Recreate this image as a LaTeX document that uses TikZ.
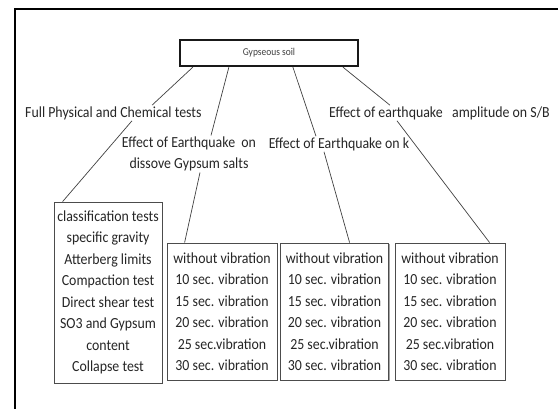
\documentclass[tikz,border=0pt]{standalone}
\usepackage{fontspec}
\setmainfont{Carlito}[FakeStretch=0.9]
\usetikzlibrary{calc,shadows}
\begin{document}
\begin{tikzpicture}[x=1pt,y=-1pt,
  txt/.style={font=\fontsize{15.4}{21.5}\selectfont, text=black!85},
  lbl/.style={txt, inner sep=1pt},
  vbox/.style={txt, draw=black!70, line width=0.8pt, fill=white, align=center,
    inner sep=0pt, drop shadow={shadow xshift=1.3pt, shadow yshift=-1.3pt, fill=black!45, opacity=0.8}},
  gbox/.style={draw=black!90, line width=2.2pt, fill=white, minimum width=178pt, minimum height=26pt,
    inner sep=0pt, font=\fontsize{10.5}{12}\selectfont, text=black!75,
    drop shadow={shadow xshift=1pt, shadow yshift=-1pt, fill=black!40, opacity=0.7}},
  conn/.style={draw=black!75, line width=0.7pt}]
\useasboundingbox (0,0) rectangle (558,408);
\draw[line width=2pt] (15,409) -- (15,9) -- (559,9);

\node[gbox] (g) at (269,53) {\raisebox{-3pt}{Gypseous soil}};

\node[lbl, anchor=west] (l1) at (24,113) {Full Physical and Chemical tests};
\node[lbl, anchor=west] (l4) at (328,113) {Effect of earthquake\ \ \ amplitude on S/B};
\node[lbl, align=center] (l2) at (189,154) {Effect of Earthquake\ \ on\\dissove Gypsum salts};
\node[lbl] (l3) at (339,144) {Effect of Earthquake on k};

\node[vbox, minimum width=108pt, minimum height=181pt] (b1) at (108,292.5)
  {classification tests\\specific gravity\\Atterberg limits\\Compaction test\\Direct shear test\\SO3 and Gypsum\\content\\Collapse test};
\node[vbox, minimum width=110pt, minimum height=137pt] (b2) at (222,311.5)
  {without vibration\\10 sec. vibration\\15 sec. vibration\\20 sec. vibration\\25 sec.vibration\\30 sec. vibration};
\node[vbox, minimum width=108pt, minimum height=137pt] (b3) at (334.5,311.5)
  {without vibration\\10 sec. vibration\\15 sec. vibration\\20 sec. vibration\\25 sec.vibration\\30 sec. vibration};
\node[vbox, minimum width=110pt, minimum height=137pt] (b4) at (450,311.5)
  {without vibration\\10 sec. vibration\\15 sec. vibration\\20 sec. vibration\\25 sec.vibration\\30 sec. vibration};

\draw[conn] ($(g.south west)+(14,0)$) -- ($(l1.north west)+(128,0)$);
\draw[conn] ($(l1.south west)+(108,0)$) -- ($(b1.north west)+(9,0)$);
\draw[conn] ($(g.south west)+(50,0)$) -- ($(l2.north)+(22,0)$);
\draw[conn] ($(l2.south)+(11,0)$) -- ($(b2.north west)+(18,0)$);
\draw[conn] ($(g.south west)+(114,0)$) -- ($(l3.north)+(-23,0)$);
\draw[conn] ($(l3.south)+(-15,0)$) -- ($(b3.north west)+(69.5,0)$);
\draw[conn] ($(g.south west)+(164,0)$) -- ($(l4.north west)+(62,0)$);
\draw[conn] ($(l4.south west)+(69,0)$) -- ($(b4.north west)+(95,0)$);
\end{tikzpicture}
\end{document}
